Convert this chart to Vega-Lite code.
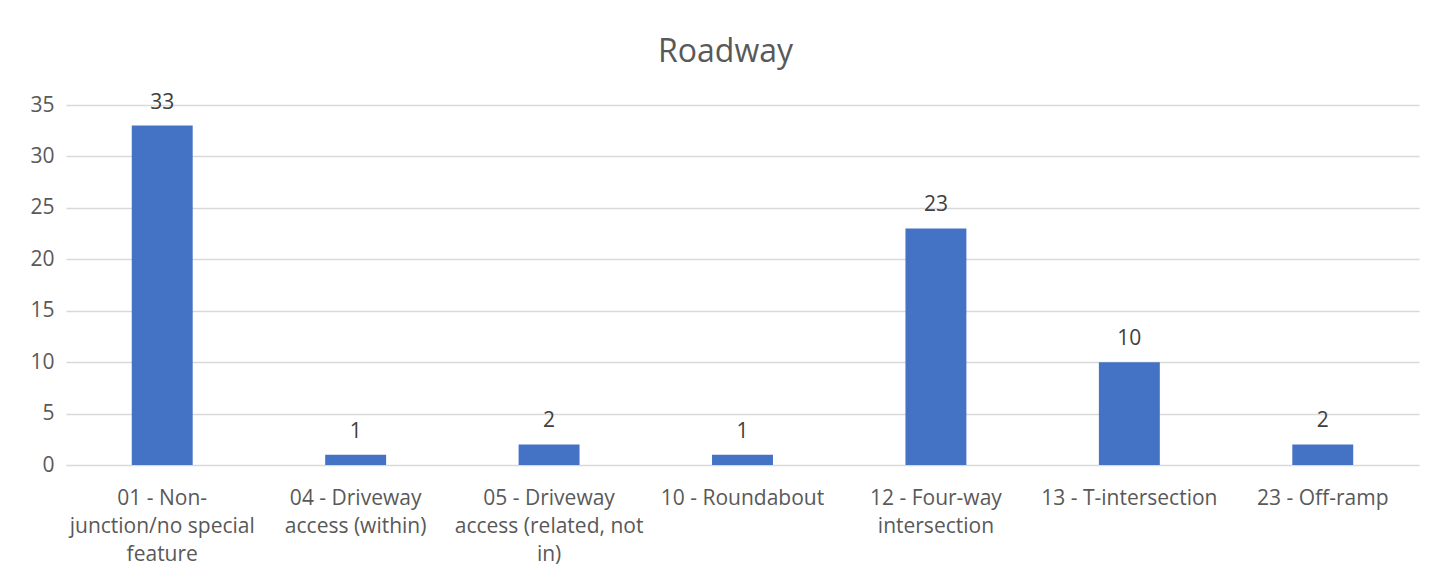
{
  "$schema": "https://vega.github.io/schema/vega-lite/v6.json",
  "width": 1353,
  "height": 360,
  "autosize": {"type": "none"},
  "padding": {"left": 66, "top": 105, "right": 29, "bottom": 119},
  "background": "white",
  "title": {"text": "Roadway", "fontSize": 32, "font": "Open Sans", "fontWeight": "normal", "color": "#595959", "offset": 23, "dx": -17},
  "config": {"view": {"stroke": null}, "font": "Open Sans"},
  "data": {"values": [
    {"type": "01 - Non-junction/no special feature", "count": 33},
    {"type": "04 - Driveway access (within)", "count": 1},
    {"type": "05 - Driveway access (related, not in)", "count": 2},
    {"type": "10 - Roundabout", "count": 1},
    {"type": "12 - Four-way intersection", "count": 23},
    {"type": "13 - T-intersection", "count": 10},
    {"type": "23 - Off-ramp", "count": 2}
  ]},
  "encoding": {
    "x": {"field": "type", "type": "nominal", "sort": null,
      "scale": {"paddingInner": 0.685, "paddingOuter": 0.34},
      "axis": {"title": null, "labelAngle": 0, "labelFontSize": 21, "labelColor": "#595959", "labelFont": "Open Sans",
        "labelPadding": 22, "labelLineHeight": 28, "labelBaseline": "top", "ticks": false, "domainColor": "#d9d9d9", "labelLimit": 300,
        "labelExpr": "({'01 - Non-junction/no special feature': ['01 - Non-','junction/no special','feature'], '04 - Driveway access (within)': ['04 - Driveway','access (within)'], '05 - Driveway access (related, not in)': ['05 - Driveway','access (related, not','in)'], '12 - Four-way intersection': ['12 - Four-way','intersection']})[datum.value] || datum.value"}},
    "y": {"field": "count", "type": "quantitative", "scale": {"domain": [0, 35]},
      "axis": {"title": null, "values": [0,5,10,15,20,25,30,35], "labelFontSize": 21, "labelColor": "#595959", "labelFont": "Open Sans",
        "labelPadding": 12, "ticks": false, "domain": false, "gridColor": "#d9d9d9", "gridWidth": 1.3}}
  },
  "layer": [
    {"mark": {"type": "bar", "color": "#4472C4"}},
    {"mark": {"type": "text", "baseline": "bottom", "dy": -13, "fontSize": 21, "color": "#404040", "font": "Open Sans"},
     "encoding": {"text": {"field": "count", "type": "quantitative"}}}
  ]
}
